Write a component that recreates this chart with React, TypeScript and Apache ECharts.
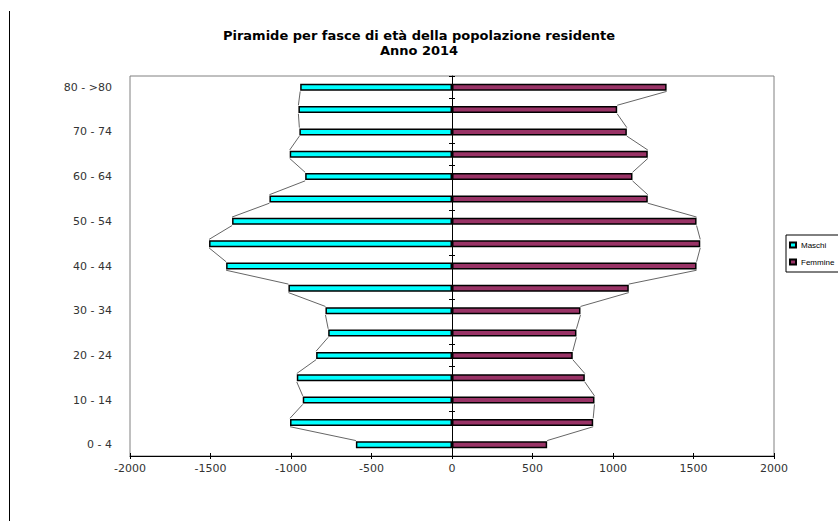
import React, { useEffect, useRef } from "react";
import * as echarts from "echarts";

const titleLine1 = "Piramide per fasce di età della popolazione residente";
const titleLine2 = "Anno 2014";

// bottom to top
const ageGroups = [
  "0 - 4", "5 - 9", "10 - 14", "15 - 19", "20 - 24", "25 - 29", "30 - 34", "35 - 39",
  "40 - 44", "45 - 49", "50 - 54", "55 - 59", "60 - 64", "65 - 69", "70 - 74", "75 - 79", "80 - >80",
];
const maschi = [-597, -1006, -927, -964, -844, -769, -786, -1016, -1403, -1509, -1366, -1134, -912, -1008, -948, -954, -943];
const femmine = [591, 877, 885, 825, 750, 773, 798, 1098, 1519, 1542, 1519, 1216, 1121, 1216, 1086, 1026, 1333];
const xTicks = [-2000, -1500, -1000, -500, 0, 500, 1000, 1500, 2000];
const zeroTickIdx = [2, 4, 5, 7, 9, 11, 13, 14, 16];

const FONT = "'Liberation Sans', Arial, sans-serif";
const WIDE = "'DejaVu Sans', sans-serif";
const BAR_W = 7;
const BORDER = 1.5;

function segments(vals: number[]) {
  const out: number[][] = [];
  for (let i = 0; i < vals.length - 1; i++) out.push([vals[i], i, vals[i + 1]]);
  return out;
}

export default function App() {
  const ref = useRef<HTMLDivElement>(null);
  useEffect(() => {
    if (!ref.current) return;
    const chart = echarts.init(ref.current, undefined, { renderer: "svg" });
    const half = (BAR_W + BORDER) / 2;
    const renderSeg = (params: any, api: any) => {
      const i = api.value(1);
      const p1 = api.coord([api.value(0), i]);
      const p2 = api.coord([api.value(2), i + 1]);
      return {
        type: "line",
        shape: { x1: p1[0], y1: p1[1] - half, x2: p2[0], y2: p2[1] + half },
        style: { stroke: "#666", lineWidth: 1 },
      };
    };
    const tickFn = (idx: number) => zeroTickIdx.indexOf(idx) >= 0;
    chart.setOption({
      animation: false,
      backgroundColor: "#fff",
      title: [
        { text: titleLine1, left: "center", top: 28, padding: 0, textStyle: { fontFamily: WIDE, fontSize: 13, lineHeight: 15, fontWeight: "bold", color: "#000" } },
        { text: titleLine2, left: "center", top: 43, padding: 0, textStyle: { fontFamily: WIDE, fontSize: 13, lineHeight: 15, fontWeight: "bold", color: "#000" } },
      ],
      legend: {
        data: ["Maschi", "Femmine"],
        orient: "vertical",
        left: 786,
        top: 235,
        padding: [5, 6, 5, 3],
        itemWidth: 6,
        itemHeight: 5,
        itemGap: 7,
        borderColor: "#000",
        borderWidth: 1,
        icon: "rect",
        textStyle: { fontFamily: FONT, fontSize: 8, color: "#000", lineHeight: 10 },
      },
      grid: { left: 130, right: 64, top: 76, bottom: 75, show: true, borderColor: "#808080", borderWidth: 1 },
      xAxis: [
        {
          type: "value",
          min: xTicks[0],
          max: xTicks[xTicks.length - 1],
          interval: xTicks[1] - xTicks[0],
          axisLine: { show: true, onZero: false, lineStyle: { color: "#000", width: 1 } },
          axisTick: { show: true, length: 3, lineStyle: { color: "#000" } },
          axisLabel: { margin: 7, fontFamily: WIDE, fontSize: 11, color: "#333", formatter: (v: number) => String(v) },
          splitLine: { show: false },
        },
        {
          type: "value",
          position: "bottom",
          min: xTicks[0],
          max: xTicks[xTicks.length - 1],
          interval: xTicks[1] - xTicks[0],
          axisLine: { show: false, onZero: false },
          axisTick: { show: true, inside: true, length: 3, lineStyle: { color: "#000" } },
          axisLabel: { show: false },
          splitLine: { show: false },
        },
      ],
      yAxis: [
        {
          type: "category",
          data: ageGroups,
          axisLine: { show: false, onZero: false },
          axisTick: { show: false },
          axisLabel: { interval: 1, margin: 18, fontFamily: WIDE, fontSize: 11, color: "#333" },
        },
        {
          type: "category",
          data: ageGroups,
          axisLine: { show: true, onZero: true, lineStyle: { color: "#000", width: 1 } },
          axisTick: { show: true, interval: tickFn, length: 3, lineStyle: { color: "#000" } },
          axisLabel: { show: false },
        },
        {
          type: "category",
          data: ageGroups,
          axisLine: { show: false, onZero: true },
          axisTick: { show: true, inside: true, interval: tickFn, length: 3, lineStyle: { color: "#000" } },
          axisLabel: { show: false },
        },
      ],
      series: [
        {
          name: "Maschi",
          type: "bar",
          stack: "pop",
          barWidth: BAR_W,
          data: maschi,
          itemStyle: { color: "#00FFFF", borderColor: "#000", borderWidth: BORDER },
        },
        {
          name: "Femmine",
          type: "bar",
          stack: "pop",
          barWidth: BAR_W,
          data: femmine,
          itemStyle: { color: "#993366", borderColor: "#000", borderWidth: BORDER },
        },
        {
          name: "lineM",
          type: "custom",
          renderItem: renderSeg,
          data: segments(maschi),
          encode: { x: [0, 2], y: 1 },
          z: 1,
          silent: true,
        },
        {
          name: "lineF",
          type: "custom",
          renderItem: renderSeg,
          data: segments(femmine),
          encode: { x: [0, 2], y: 1 },
          z: 1,
          silent: true,
        },
      ],
      graphic: [
        { type: "line", shape: { x1: 9.5, y1: 11, x2: 9.5, y2: 521 }, style: { stroke: "#000", lineWidth: 1 } },
      ],
    });
    return () => chart.dispose();
  }, []);
  return <div ref={ref} style={{ position: "absolute", left: 0, top: 0, width: 838, height: 531 }} />;
}
